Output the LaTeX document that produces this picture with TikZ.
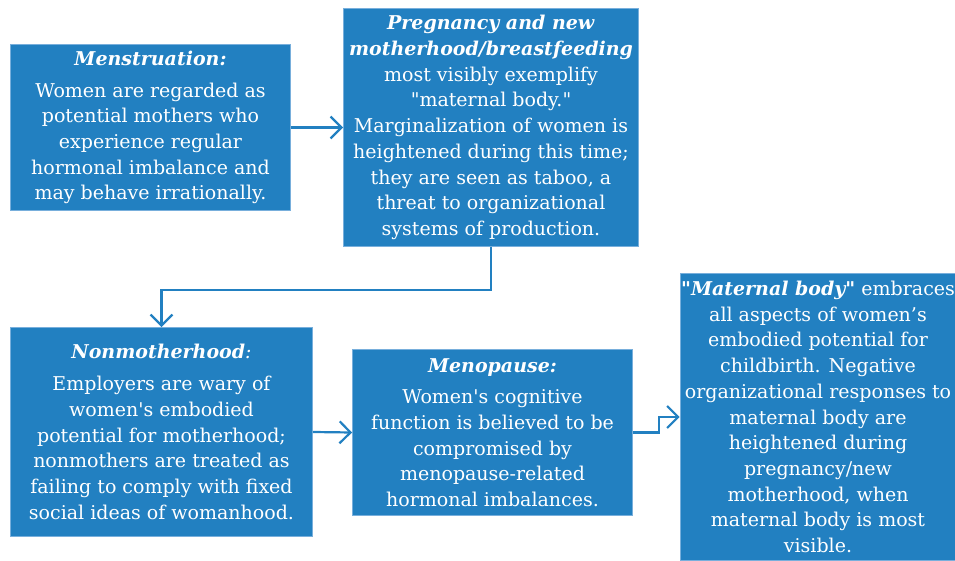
\documentclass[tikz,border=0pt]{standalone}
\usepackage{fontspec}
\newfontfamily\boxfont{DejaVu Serif}
\definecolor{BoxBlue}{RGB}{34,128,193}
\definecolor{EdgeBlue}{RGB}{120,175,220}
\usetikzlibrary{arrows.meta, positioning, calc}

\tikzset{
  stagebox/.style={fill=BoxBlue, draw=EdgeBlue, line width=0.8pt,
        text=white, align=center, inner sep=1pt,
        font=\boxfont\fontsize{19}{25.7}\selectfont},
  flowarrow/.style={draw=BoxBlue, line width=2.2pt,
        -{Straight Barb[length=11pt,width=22pt,line width=2.2pt]}}
}

\begin{document}
\begin{tikzpicture}[x=1pt, y=-1pt]
  \useasboundingbox (0,0) rectangle (955,561);
  \node[stagebox, minimum width=280pt, minimum height=166pt] (menst) at (150.5,127.5)
    {\textbf{\textit{Menstruation:}}\\[6pt]
     Women are regarded as\\ potential mothers who\\ experience regular\\
     hormonal imbalance and\\ may behave irrationally.};
  \node[stagebox, minimum width=295pt, minimum height=238pt] (preg) at (491,127.5)
    {\textbf{\textit{Pregnancy and new}}\\ \textbf{\textit{motherhood/breastfeeding}}\\
     most visibly exemplify\\ "maternal body."\\ Marginalization of women is\\
     heightened during this time;\\ they are seen as taboo, a\\
     threat to organizational\\ systems of production.};
  \node[stagebox, minimum width=302pt, minimum height=209pt] (nonm) at (161.5,432)
    {\textbf{\textit{Nonmotherhood}}\textit{:}\\[6pt]
     Employers are wary of\\ women's embodied\\ potential for motherhood;\\
     nonmothers are treated as\\ failing to comply with fixed\\ social ideas of womanhood.};
  \node[stagebox, minimum width=280pt, minimum height=166pt] (meno) at (492.5,432.5)
    {\textbf{\textit{Menopause:}}\\[6pt]
     Women's cognitive\\ function is believed to be\\ compromised by\\
     menopause-related\\ hormonal imbalances.};
  \node[stagebox, minimum width=273pt, minimum height=287pt] (mat) at (818,417)
    {\textbf{\textit{"Maternal body"}} embraces\\ all aspects of women’s\\
     embodied potential for\\ childbirth. Negative\\ organizational responses to\\
     maternal body are\\ heightened during\\ pregnancy/new\\ motherhood, when\\
     maternal body is most\\ visible.};

  \draw[flowarrow] (menst.east) -- (preg.west);
  \draw[flowarrow] (preg.south) -- ++(0,43) -| (nonm.north);
  \draw[flowarrow] (nonm.east) -- (meno.west);
  \draw[flowarrow] (meno.east) -- ++(26,0) |- (mat.west);
\end{tikzpicture}
\end{document}
